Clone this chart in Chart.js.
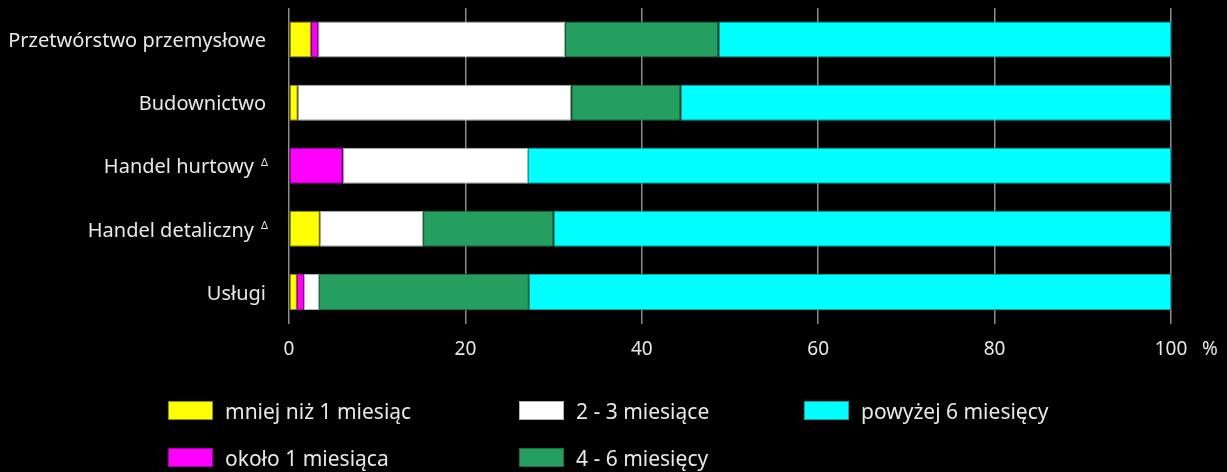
<!DOCTYPE html>
<html lang="pl">
<head>
<meta charset="utf-8">
<title>Okres poszukiwania pracowników</title>
<script src="https://cdn.jsdelivr.net/npm/chart.js@4/dist/chart.umd.min.js"></script>
<style>
  body { margin: 0; background: #000; }
  #wrap { position: relative; width: 1227px; height: 472px; }
  #legend { position: absolute; left: 0; top: 0; width: 100%; height: 100%; pointer-events: none; }
  .item { position: absolute; display: flex; align-items: center; font: 21px "Noto Sans", sans-serif; color: #e8e8e8; white-space: nowrap; }
  .box { width: 45px; height: 19px; margin-right: 12px; box-sizing: border-box; border: 1px solid rgba(0,0,0,0.35); }
</style>
</head>
<body>
<div id="wrap">
  <canvas id="chart" width="1227" height="472"></canvas>
  <div id="legend"></div>
</div>
<script>
// categories and footnote marks
const categories = ["Przetwórstwo przemysłowe", "Budownictwo", "Handel hurtowy", "Handel detaliczny", "Usługi"];
const marks = ["", "", "Δ", "Δ", ""];

// series values (% of enterprises)
const lessThan1 = [2.5, 1.0, 0, 3.5, 0.9];
const about1 = [0.8, 0, 6.1, 0, 0.8];
const twoToThree = [28.0, 31.0, 21.0, 11.7, 1.7];
const fourToSix = [17.4, 12.4, 0, 14.8, 23.8];
const over6 = [51.3, 55.6, 72.9, 70.0, 72.8];

// x axis ticks
const xTicks = [0, 20, 40, 60, 80, 100];

const FONT = "'Noto Sans', sans-serif";
const TEXT = "#e8e8e8";

function series(label, data, color, border) {
    return {
        label: label,
        data: data,
        backgroundColor: color,
        borderColor: border,
        borderWidth: (c) => c.raw ? 1 : 0,
        borderSkipped: false,
        barPercentage: 0.571,
        categoryPercentage: 1
    };
}

// draws the small delta marks and the "%" next to 100
const extras = {
    id: "extras",
    afterDraw(chart) {
        let ctx = chart.ctx;
        let x = chart.scales.x;
        let y = chart.scales.y;
        ctx.save();
        ctx.fillStyle = TEXT;
        // "%" unit
        ctx.font = "19px " + FONT;
        ctx.textAlign = "center";
        ctx.textBaseline = "middle";
        ctx.fillText("%", x.getPixelForValue(100) + 39, x.top + 15 + 11.4);
        // superscript marks
        ctx.font = "11px " + FONT;
        ctx.textAlign = "right";
        marks.forEach((m, i) => {
            if (m) ctx.fillText(m, chart.chartArea.left - 21, y.getPixelForValue(i) - 3);
        });
        ctx.restore();
    }
};

document.addEventListener("DOMContentLoaded", () => {
    let context = document.getElementById("chart").getContext("2d");
    let chart = new Chart(context, {
        type: "bar",
        data: {
            labels: categories.map((c, i) => marks[i] ? c + "\u2002\u200A" : c),
            datasets: [
                series("mniej niż 1 miesiąc", lessThan1, "#ffff00", "#8f8f00"),
                series("około 1 miesiąca", about1, "#ff00ff", "#a000a0"),
                series("2 - 3 miesiące", twoToThree, "#ffffff", "#b4b4b4"),
                series("4 - 6 miesięcy", fourToSix, "#249f60", "#1a6e43"),
                series("powyżej 6 miesięcy", over6, "#00ffff", "#00a8a8")
            ]
        },
        options: {
            responsive: false,
            animation: false,
            indexAxis: "y",
            layout: { padding: { top: 8, right: 56, bottom: 108.5, left: 0 } },
            plugins: {
                legend: { display: false },
                tooltip: { enabled: false }
            },
            scales: {
                x: {
                    stacked: true,
                    min: 0,
                    max: 100,
                    afterBuildTicks: (s) => { s.ticks = xTicks.map(v => ({ value: v })); },
                    afterFit: (s) => { s.height = 40; },
                    grid: { color: "#8c8c8c", lineWidth: 1.5, drawTicks: false },
                    border: { display: false },
                    ticks: { color: TEXT, font: { family: FONT, size: 19 }, padding: 15, maxRotation: 0 }
                },
                y: {
                    stacked: true,
                    afterFit: (s) => { s.width = 289; s.paddingTop = 0; s.paddingBottom = 0; },
                    grid: { display: false, drawTicks: false },
                    border: { display: false },
                    ticks: { color: TEXT, font: { family: FONT, size: 20 }, padding: 23, labelOffset: 2 }
                }
            }
        },
        plugins: [extras]
    });

    // legend laid out in columns like the original
    const cols = [168, 519, 804];
    const rows = [401, 448];
    let legend = document.getElementById("legend");
    chart.data.datasets.forEach((ds, i) => {
        let item = document.createElement("div");
        item.className = "item";
        item.style.left = cols[Math.floor(i / 2)] + "px";
        item.style.top = (rows[i % 2] - 4) + "px";
        item.style.height = "27px";
        let box = document.createElement("span");
        box.className = "box";
        box.style.background = ds.backgroundColor;
        box.style.borderColor = ds.borderColor;
        let txt = document.createElement("span");
        txt.textContent = ds.label;
        item.appendChild(box);
        item.appendChild(txt);
        legend.appendChild(item);
    });
});
</script>
</body>
</html>
